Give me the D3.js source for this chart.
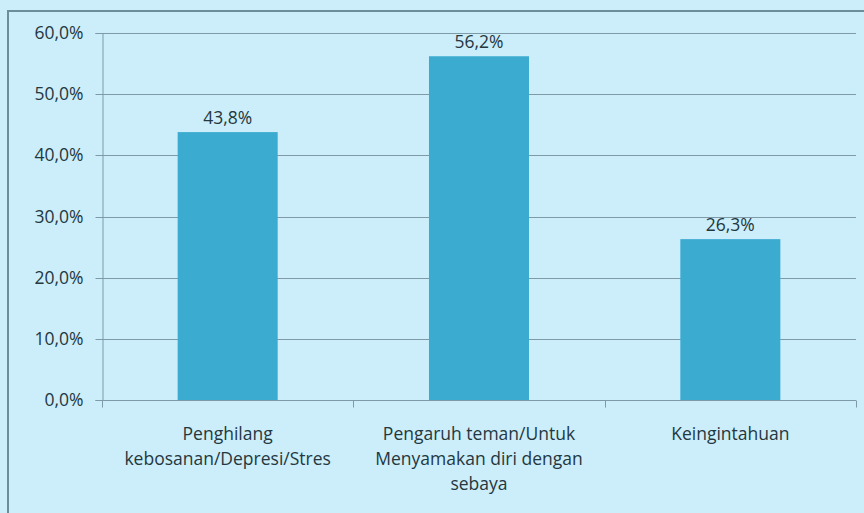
<!DOCTYPE html>
<html>
<head>
<meta charset="utf-8">
<script src="https://cdn.jsdelivr.net/npm/d3@7"></script>
<style>
  html, body { margin: 0; padding: 0; background: #cbeefa; }
  svg { display: block; font-family: "Open Sans", "Noto Sans", sans-serif; }
</style>
</head>
<body>
<div id="chart"></div>
<script>
const categories = [
  ["Penghilang", "kebosanan/Depresi/Stres"],
  ["Pengaruh teman/Untuk", "Menyamakan diri dengan", "sebaya"],
  ["Keingintahuan"],
];
const values = [0.438, 0.562, 0.263];
const yTicks = [0, 0.1, 0.2, 0.3, 0.4, 0.5, 0.6];

const width = 864;
const height = 513;
const margin = { top: 33, right: 8, bottom: 113, left: 102 };
const fontSize = 17.5;
const textColor = "#25373f";
const lineColor = "#7d9aa6";

const fmt = (v) => d3.format(".1%")(v).replace(".", ",");

const svg = d3.select("#chart").append("svg")
  .attr("width", width)
  .attr("height", height);

svg.append("rect")
  .attr("width", width).attr("height", height)
  .attr("fill", "#cbeefa");

// outer frame
svg.append("rect")
  .attr("x", 8).attr("y", 11)
  .attr("width", width + 20).attr("height", height + 20)
  .attr("fill", "none")
  .attr("stroke", "#6c8e9c")
  .attr("stroke-width", 2);

const x = d3.scaleBand()
  .domain(d3.range(categories.length))
  .range([margin.left, width - margin.right])
  .paddingInner(0.602)
  .paddingOuter(0.301);

const y = d3.scaleLinear()
  .domain([0, 0.6])
  .range([height - margin.bottom, margin.top]);

// gridlines
svg.append("g")
  .selectAll("line")
  .data(yTicks.slice(1))
  .join("line")
  .attr("x1", margin.left)
  .attr("x2", width - margin.right)
  .attr("y1", (d) => Math.round(y(d)) + 0.5)
  .attr("y2", (d) => Math.round(y(d)) + 0.5)
  .attr("stroke", lineColor);

// y axis
svg.append("g")
  .attr("transform", `translate(${margin.left + 0.5},0)`)
  .call(d3.axisLeft(y).tickValues(yTicks).tickFormat(fmt).tickSize(7).tickPadding(12))
  .call((g) => g.select(".domain").attr("stroke", lineColor))
  .call((g) => g.selectAll(".tick line").attr("stroke", lineColor))
  .call((g) => g.selectAll(".tick").attr("transform", (d) => `translate(0,${Math.round(y(d)) + 0.5})`))
  .call((g) => g.selectAll(".tick text")
    .attr("fill", textColor)
    .attr("font-size", fontSize)
    .attr("font-family", "'Open Sans', sans-serif"));

// bars
svg.append("g")
  .selectAll("rect")
  .data(values)
  .join("rect")
  .attr("x", (d, i) => x(i))
  .attr("y", (d) => y(d))
  .attr("width", x.bandwidth())
  .attr("height", (d) => y(0) - y(d))
  .attr("fill", "#3cabd0");

// value labels
svg.append("g")
  .selectAll("text")
  .data(values)
  .join("text")
  .attr("x", (d, i) => x(i) + x.bandwidth() / 2)
  .attr("y", (d) => y(d) - 8)
  .attr("text-anchor", "middle")
  .attr("fill", textColor)
  .attr("font-size", fontSize)
  .text(fmt);

// x axis
const step = x.step();
const xAxisY = Math.round(y(0)) + 0.5;
const gx = svg.append("g");
gx.append("line")
  .attr("x1", margin.left).attr("x2", width - margin.right)
  .attr("y1", xAxisY).attr("y2", xAxisY)
  .attr("stroke", lineColor);
gx.selectAll(".xtick")
  .data(d3.range(categories.length + 1))
  .join("line")
  .attr("class", "xtick")
  .attr("x1", (i) => Math.round(margin.left + i * step) + 0.5)
  .attr("x2", (i) => Math.round(margin.left + i * step) + 0.5)
  .attr("y1", xAxisY)
  .attr("y2", xAxisY + 7)
  .attr("stroke", lineColor);

gx.selectAll(".xlabel")
  .data(categories)
  .join("text")
  .attr("class", "xlabel")
  .attr("text-anchor", "middle")
  .attr("fill", textColor)
  .attr("font-size", fontSize)
  .attr("x", (d, i) => x(i) + x.bandwidth() / 2)
  .attr("y", xAxisY + 39)
  .selectAll("tspan")
  .data((d) => d)
  .join("tspan")
  .attr("x", function () { return this.parentNode.getAttribute("x"); })
  .attr("dy", (d, i) => (i === 0 ? 0 : 25))
  .text((d) => d);
</script>
</body>
</html>
